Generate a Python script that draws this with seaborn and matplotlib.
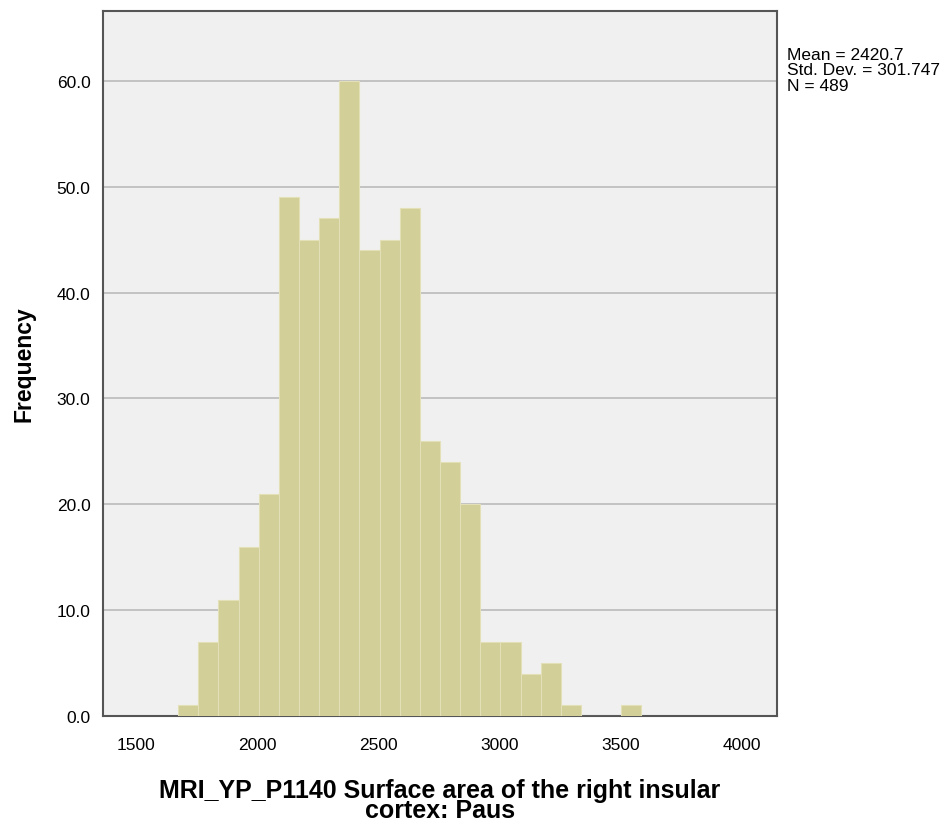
import numpy as np
import pandas as pd
import seaborn as sns
import matplotlib.pyplot as plt

# histogram counts (SPSS style)
bin_start = 1675
bin_width = 83
counts = [1, 7, 11, 16, 21, 49, 45, 47, 60, 44, 45, 48, 26, 24, 20, 7, 7, 4, 5, 1, 0, 0, 1]
x_ticks = [1500, 2000, 2500, 3000, 3500, 4000]
y_ticks = [0, 10, 20, 30, 40, 50, 60]
stats_text = "Mean = 2420.7\nStd. Dev. = 301.747\nN = 489"
x_title = "MRI_YP_P1140 Surface area of the right insular\ncortex: Paus"

edges = [bin_start + bin_width * i for i in range(len(counts) + 1)]
centers = [(edges[i] + edges[i + 1]) / 2 for i in range(len(counts))]
df = pd.DataFrame({"value": centers, "count": counts})

sns.set_style("white")
plt.rcParams['font.family'] = ['Liberation Sans', 'DejaVu Sans']
plt.rcParams['text.color'] = 'black'
plt.rcParams['axes.labelcolor'] = 'black'
plt.rcParams['xtick.color'] = 'black'
plt.rcParams['ytick.color'] = 'black'

fig = plt.figure(figsize=(9.51, 8.28), dpi=100)
ax = fig.add_axes([0.1083, 0.134, 0.7087, 0.8515])
ax.set_facecolor("#f0f0f0")

sns.histplot(data=df, x="value", weights="count", bins=edges, ax=ax,
             color="#d3cf98", alpha=1.0, edgecolor="#e3e0b8", linewidth=0.8, zorder=3)

ax.set_xlim(1365, 4143)
ax.set_ylim(0, 66.6)
ax.set_xticks(x_ticks)
ax.set_xticklabels([str(t) for t in x_ticks], fontsize=12.5)
ax.set_yticks(y_ticks)
ax.set_yticklabels([f"{t:.1f}" for t in y_ticks], fontsize=12.5)
ax.tick_params(length=0)
ax.tick_params(axis="x", pad=15)
ax.tick_params(axis="y", pad=9)

for t in y_ticks[1:]:
    ax.axhline(t, color="#bfbfbf", linewidth=1.3, zorder=1)

for s in ax.spines.values():
    s.set_color("#555555")
    s.set_linewidth(1.5)

ax.set_xlabel(x_title, fontsize=18, fontweight="bold", linespacing=0.8, labelpad=19)
ax.set_ylabel("Frequency", fontsize=16.5, fontweight="bold", labelpad=15)

fig.text(0.8275, 0.942, stats_text, fontsize=12.5, va="top", ha="left", linespacing=1.02)

fig.savefig("out.png", dpi=100)
